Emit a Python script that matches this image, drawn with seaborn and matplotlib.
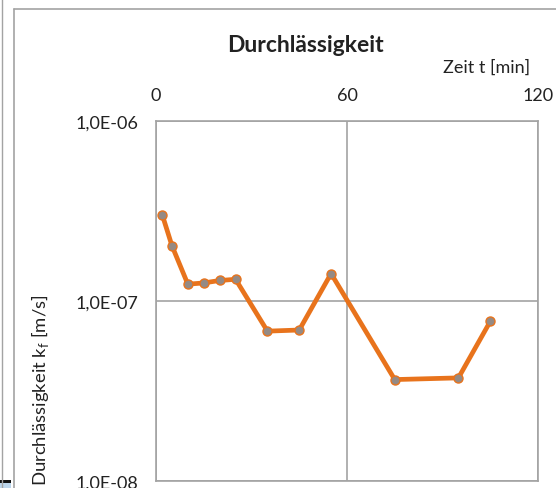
import matplotlib
matplotlib.use("Agg")
import matplotlib.pyplot as plt
from matplotlib.patches import Rectangle
from matplotlib.lines import Line2D
import matplotlib.ticker as mticker
import seaborn as sns
import pandas as pd

# Measured permeability over time
zeit_min = [2, 5, 10, 15, 20, 25, 35, 45, 55, 75, 95, 105]
kf_ms = [3.0e-7, 2.03e-7, 1.24e-7, 1.26e-7, 1.30e-7, 1.32e-7,
         6.8e-8, 6.9e-8, 1.42e-7, 3.66e-8, 3.74e-8, 7.7e-8]
x_ticks = [0, 60, 120]
y_ticks = [1e-8, 1e-7, 1e-6]
y_tick_labels = ["1,0E-08", "1,0E-07", "1,0E-06"]

df = pd.DataFrame({"t": zeit_min, "kf": kf_ms})

sns.set_theme(style="white")
plt.rcParams["font.family"] = ["Lato", "DejaVu Sans"]

W, H = 556, 489
fig = plt.figure(figsize=(W / 100, H / 100), dpi=100)
fig.patch.set_facecolor("white")

grey = "#a3a3a3"

# outer chart frame: left and top edges (the rest runs past the figure)
fig.lines.append(Line2D([14 / W, 14 / W], [0, 1 - 10 / H], transform=fig.transFigure,
                        color=grey, linewidth=1.2))
fig.lines.append(Line2D([14 / W, 1], [1 - 10 / H, 1 - 10 / H], transform=fig.transFigure,
                        color=grey, linewidth=1.2))
fig.lines.append(Line2D([2 / W, 2 / W], [0, 1], transform=fig.transFigure,
                        color=grey, linewidth=1.0))
fig.patches.append(Rectangle((0, 5 / H), 11 / W, 3 / H, transform=fig.transFigure,
                             color="#111111", linewidth=0))
fig.patches.append(Rectangle((0, 0), 11 / W, 5 / H, transform=fig.transFigure,
                             color="#bcd6ec", linewidth=0))

left, right, top, bottom = 156, 538, 122, 482
ax = fig.add_axes([left / W, 1 - bottom / H, (right - left) / W, (bottom - top) / H])

sns.lineplot(data=df, x="t", y="kf", ax=ax, color="#E8731C", linewidth=3.4,
             marker="o", markersize=6.5, markerfacecolor="#958a84",
             markeredgecolor="#E8731C", markeredgewidth=1.0, zorder=3)

ax.set_yscale("log")
ax.set_xlim(0, 120)
ax.set_ylim(1e-8, 1e-6)
ax.set_xticks(x_ticks)
ax.set_yticks(y_ticks)
ax.set_yticklabels(y_tick_labels)
ax.yaxis.set_minor_locator(mticker.NullLocator())
ax.xaxis.tick_top()
ax.tick_params(axis="both", length=0, labelsize=13, colors="#222222")
ax.tick_params(axis="y", pad=13)
ax.tick_params(axis="x", pad=13)
ax.grid(True, which="major", color=grey, linewidth=1.2)
for s in ax.spines.values():
    s.set_color(grey)
    s.set_linewidth(1.2)
ax.set_xlabel("")
ax.set_ylabel("")

fig.text(305 / W, 1 - 46 / H, "Durchlässigkeit", ha="center", va="center",
         fontsize=16.5, fontweight="bold", color="#222222")
fig.text(487 / W, 1 - 68 / H, "Zeit t [min]", ha="center", va="center",
         fontsize=13, color="#222222")
fig.text(40 / W, 1 - 390 / H, r"Durchlässigkeit k$_\mathregular{f}$ [m/s]", ha="center",
         va="center", rotation=90, fontsize=13.3, color="#222222")

fig.savefig("out.png", dpi=100, facecolor="white")
